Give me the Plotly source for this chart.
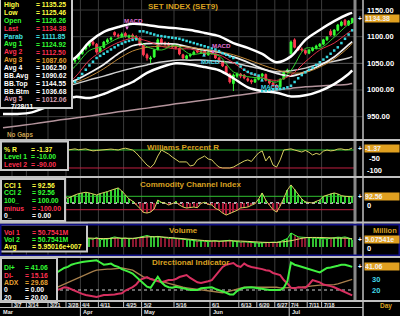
import plotly.graph_objects as go

# ---------------- data ----------------
opens = [1012, 1016, 1021, 1025, 1027, 1019, 1024, 1028, 1017, 1007,
         1000, 986, 993, 990, 1000, 1010, 1022, 1030, 1038, 1046,
         1054, 1058, 1068, 1077, 1083, 1090, 1086, 1072, 1080, 1090,
         1095, 1108, 1103, 1100, 1106, 1099, 1103, 1100, 1097, 1084,
         1066, 1058, 1062, 1076, 1095, 1088, 1087, 1083, 1080, 1078,
         1066, 1059, 1064, 1067, 1074, 1070, 1073, 1066, 1072, 1068,
         1060, 1053, 1044, 1030, 1012, 1026, 1030, 1028, 1021, 1018,
         1015, 1020, 1026, 1029, 1018, 1013, 1009, 1006, 1021, 1034,
         1068, 1094, 1080, 1077, 1074, 1069, 1074, 1078, 1082, 1086,
         1094, 1110, 1103, 1112, 1121, 1131, 1122, 1126.26]
highs = [1019, 1024, 1028, 1030, 1029, 1027, 1031, 1030, 1019, 1010,
         1003, 996, 995, 1003, 1013, 1025, 1033, 1041, 1048, 1055,
         1060, 1069, 1077, 1085, 1091, 1093, 1088, 1082, 1092, 1097,
         1100, 1110, 1106, 1108, 1109, 1104, 1106, 1103, 1099, 1086,
         1069, 1064, 1077, 1097, 1098, 1091, 1090, 1086, 1084, 1080,
         1068, 1066, 1069, 1074, 1076, 1075, 1075, 1073, 1074, 1070,
         1062, 1055, 1046, 1032, 1031, 1033, 1032, 1030, 1024, 1020,
         1022, 1028, 1032, 1031, 1020, 1015, 1011, 1022, 1036, 1040,
         1093, 1097, 1082, 1080, 1076, 1077, 1081, 1085, 1088, 1096,
         1101, 1114, 1114, 1124, 1130, 1133, 1131, 1135.25]
lows = [1009, 1013, 1018, 1022, 1016, 1016, 1021, 1014, 1004, 997,
        983, 984, 987, 987, 997, 1007, 1019, 1027, 1035, 1044,
        1050, 1056, 1066, 1074, 1080, 1083, 1068, 1070, 1078, 1087,
        1092, 1100, 1097, 1098, 1098, 1096, 1096, 1094, 1082, 1063,
        1055, 1050, 1060, 1074, 1085, 1083, 1081, 1078, 1076, 1065,
        1057, 1057, 1061, 1065, 1069, 1068, 1064, 1064, 1066, 1058,
        1050, 1043, 1028, 1012, 998, 1022, 1022, 1020, 1015, 1011,
        1013, 1018, 1024, 1016, 1010, 1005, 1002, 1004, 1019, 1031,
        1066, 1078, 1073, 1072, 1066, 1067, 1072, 1076, 1080, 1084,
        1092, 1101, 1101, 1110, 1119, 1120, 1120, 1125.46]
closes = [1016, 1021, 1025, 1027, 1019, 1024, 1028, 1017, 1007, 1000,
          986, 993, 990, 1000, 1010, 1022, 1030, 1038, 1045, 1052.5,
          1056, 1067, 1075, 1082.5, 1088, 1086, 1071, 1079, 1090, 1094,
          1097.5, 1103, 1101, 1105, 1101, 1101, 1099, 1097.5, 1084, 1066,
          1060, 1060, 1075, 1094, 1088, 1086, 1084, 1081, 1079, 1067.5,
          1060, 1064, 1066, 1071, 1071, 1073, 1066, 1071, 1069, 1060,
          1052.5, 1045, 1030, 1015, 1028, 1030, 1026, 1022.5, 1018, 1015,
          1020, 1026, 1030, 1018, 1013, 1008, 1005, 1020, 1033.75, 1037.5,
          1090, 1080, 1075, 1075, 1069, 1075, 1078.75, 1082.5, 1086, 1094,
          1099, 1103, 1112.5, 1122, 1127.5, 1122, 1129.4, 1134.38]
parab_sar = [1040, 1039, 1038, 1037, 1036, 1035, 1034, 1033, 1032, 1030, 1027, 1022, 1016, 1012,
             983, 985, 989, 994, 1000, 1008, 1015, 1022, 1030, 1038, 1046, 1053, 1060, 1064,
             1068, 1072, 1076, 1080, 1084, 1087, 1090, 1092, 1094, 1095,
             1110, 1110, 1108, 1106, 1104, 1102, 1101, 1100, 1099, 1098, 1097, 1096,
             1094, 1092, 1090, 1088, 1086, 1084, 1082, 1080, 1078, 1076, 1073, 1069, 1066, 1063,
             1060, 1051, 1044, 1038, 1034, 1031, 1029, 1027,
             998, 999, 1000, 1001, 1001.5, 1002, 1003, 1005,
             1008, 1015, 1022, 1028, 1033, 1038, 1042, 1047, 1052, 1057,
             1062, 1068, 1074, 1080, 1088, 1096, 1104, 1111.85]

# averaged lines, read every 4th session
line_idx = [0, 4, 8, 12, 16, 20, 24, 28, 32, 36, 40, 44, 48, 52, 56, 60, 64, 68, 72, 76, 80, 84, 88, 92, 96, 97]
avg1 = [1015, 1022, 1020, 998, 1020, 1044, 1074, 1083, 1097, 1101, 1081, 1075, 1084, 1067, 1069, 1064, 1034, 1025, 1022, 1015, 1037, 1078, 1078, 1099, 1123, 1124.92]
avg2 = [1012, 1016, 1020, 1008, 1005, 1024, 1056, 1075, 1089, 1097, 1092, 1082, 1077, 1077, 1070, 1066, 1051, 1033, 1023, 1018, 1028, 1053, 1075, 1088, 1108, 1112.5]
avg3 = [1012, 1013, 1014, 1012, 1010, 1014, 1025, 1040, 1058, 1073, 1080, 1082, 1082, 1080, 1076, 1072, 1066, 1057, 1047, 1038, 1032, 1033, 1043, 1058, 1080, 1087.6]
avg4 = [991, 991, 994, 1000, 1006, 1011, 1019, 1026, 1034, 1041, 1047, 1052.5, 1056, 1056, 1056, 1054, 1051, 1045, 1039, 1034, 1036, 1041, 1049, 1054, 1060, 1062.5]
avg5 = [929, 932.5, 936, 940, 944, 947.5, 951, 955, 959, 962.5, 966, 970, 974, 977.5, 981, 985, 989, 992.5, 996, 1000, 1003, 1006, 1007.5, 1009, 1011, 1012.06]
bb_avg = [1010, 1012, 1015, 1012, 1010, 1018, 1032, 1048, 1068, 1083, 1087, 1087, 1086, 1080, 1075, 1071, 1062, 1052, 1040, 1031, 1026, 1034, 1046, 1062, 1085, 1090.62]
bb_top = [1055, 1058, 1055, 1050, 1050, 1060, 1090, 1109, 1118, 1124, 1122, 1118, 1116, 1112.5, 1107, 1101, 1088, 1079, 1067.5, 1052, 1063, 1094, 1112.5, 1129, 1142.5, 1144.55]
bb_btm = [955, 955, 958, 968, 978, 987, 985, 992.5, 1004, 1015, 1032, 1043, 1050, 1048, 1043, 1037, 1022, 1005, 998, 995, 988, 990, 998, 1011, 1030, 1036.68]

williams_r = [-30, -25, -20, -35, -60, -55, -40, -70, -85, -95, -90, -75, -60, -45, -30, -20, -15, -12,
              -10, -6, -5, -9, -8, -5, -10, -14, -12, -10,
              -8, -5, -6, -8, -10, -5, -2, -6, -10, -23,
              -41, -59, -77, -88, -72, -37, -10, -19, -28, -41,
              -54, -63, -63, -63, -81, -77, -54, -46, -37, -50,
              -54, -72, -86, -90, -90, -90, -86, -77, -68, -59,
              -54, -61, -41, -23, -14, -59, -37, -77, -86, -54,
              -10, -8, -5, -10, -15, -19, -12, -20, -32, -25,
              -30, -15, -10, -14, -12, -6, -5, -9, -8, -1.37]
cci = [50, 80, 90, 100, 40, 60, 80, 30, -80, -150, -200, -160, -140, -90, -20, 40, 70, 90,
       70, 100, 120, 140, 150, 160, 150, 130, 120, 140,
       150, 170, 190, 210, 225, 180, 120, 60, 30, -20,
       -80, -140, -150, -135, -90, 45, 10, 0, -30, -10,
       15, -30, -60, -75, -65, -60, -70, -5, 10, -20,
       -30, -80, -105, -150, -180, -160, -135, -110, -75, -65,
       -60, -35, -10, 60, 150, 40, -30, -100, -135, -45,
       75, 195, 270, 200, 120, 60, 15, 5, 0, 25,
       45, 100, 120, 140, 150, 135, 110, 100, 95, 92.56]
volume_m = [55, 60, 52, 48, 62, 58, 50, 70, 85, 90,
            75, 60, 65, 58, 62, 70, 66, 72, 80, 68,
            75, 64, 70, 66, 62, 55, 68, 50, 58, 55,
            65, 72, 66, 60, 64, 58, 60, 62, 70, 78,
            82, 75, 72, 76, 70, 66, 62, 64, 60, 58,
            55, 52, 50, 45, 42, 44, 40, 38, 42, 45,
            40, 43, 46, 48, 42, 38, 35, 37, 34, 30,
            32, 28, 30, 33, 31, 34, 33, 38, 50, 60,
            100, 85, 72, 70, 68, 66, 62, 60, 58, 55,
            58, 62, 66, 70, 68, 72, 65, 50.7541]
volume_avg_m = [62, 60, 66, 72, 70, 68, 64, 60, 64, 62, 72, 72, 64, 55, 46, 42, 44, 40, 34, 33, 45, 66, 68, 64, 62, 59.5016]
di_plus = [25, 27, 28, 30, 28, 26, 25, 24, 21, 18, 15, 16, 18, 22, 30,
           36, 38, 40, 41, 43, 44, 45, 45.5, 46, 46.5,
           47, 47, 45, 43, 43.5, 44, 42, 41, 39, 38,
           36.5, 35, 32, 29, 26, 23, 22, 27, 32, 27,
           24, 22.5, 22, 23, 22, 21.5, 21, 20, 20, 20,
           21.5, 22, 22.5, 22.5, 21, 20, 19, 17.5, 16, 16,
           19, 21, 22, 22.5, 22.5, 22, 21.5, 21, 20, 20,
           20, 20, 20, 22, 28, 45, 43, 42, 41, 40,
           39, 38, 36.5, 36, 38, 40, 40.5, 41, 42, 43,
           43, 42, 41.06]
di_minus = [20, 19, 18, 20, 24, 25, 24, 27, 31, 34, 36, 34, 32, 28, 24,
            20, 21, 22.5, 22, 20.5, 19, 17.5, 16.5, 15.5, 15,
            14.5, 13.6, 14.5, 15.5, 15.5, 15.5, 16, 16.5, 17, 19.5,
            21, 22.7, 25, 29, 30.5, 31.8, 30, 29, 27.5, 27,
            28, 29, 29, 30, 31.8, 32.5, 33.6, 31, 29, 27,
            26.4, 27, 28, 29, 33, 38, 41, 43, 44, 44.5,
            42, 41, 44, 42, 41, 40.5, 40, 39, 38, 37.5,
            35.5, 34.5, 33.5, 29, 26, 22, 21.5, 22.5, 22.5, 22,
            25, 29, 28, 27, 25, 24.5, 23.5, 22.5, 21, 20,
            18.5, 17, 15.16]
adx = [20, 19.5, 19, 18.5, 18, 18, 18.5, 19, 20, 21, 22, 22.5, 22.5, 22, 22,
       22.5, 24, 25.5, 27, 28.5, 30, 31.5, 33, 34.5, 36,
       37, 38, 38.5, 39, 39, 39, 39.5, 40, 40, 39.5,
       39, 38, 36, 34, 32, 31, 30, 29.5, 28.5, 27.5,
       27, 26, 25, 24, 23, 22.5, 22, 21.5, 21, 20.5,
       20, 19.5, 19, 18.5, 18, 17.5, 17.5, 18, 19, 20,
       21, 22, 22.5, 22.7, 22.7, 22.7, 22.7, 22.7, 22.7, 22.5,
       22.5, 22.5, 22, 22, 22, 21.8, 22, 22.3, 22.5, 22.7,
       23.2, 23.8, 24.3, 24.5, 24.5, 24.5, 24.6, 24.8, 25.5, 26.5,
       27.5, 28.7, 29.68]

price_ticks = [1150, 1100, 1050, 1000, 950]
tick_pos = [2.5, 6.5, 12.5, 17.5, 21.5, 26.5, 33.5, 38.5, 47.5, 57.5, 65.5, 70.5, 75.5, 79.5, 84.5, 88.5]
tick_labels = ['3/7', '3/14', '3/21', '3/28', '4/4', '4/11', '4/25', '5/2', '5/16', '6/1', '6/13', '6/20', '6/27', '7/4', '7/11', '7/18']
month_pos = [-0.8, 21.5, 38.5, 57.5, 79.5]
month_labels = ['Mar', 'Apr', 'May', 'Jun', 'Jul']

# ---------------- geometry helpers ----------------
W, H = 400, 316
FONT = "Liberation Sans, Arial, sans-serif"
GOLD = '#d8a020'
GREEN = '#33ff33'
RED = '#ff3050'
BOX_FS = 6.8


def fx(px):
    return px / W


def fy(py):
    return 1 - py / H


days = list(range(len(closes)))
up = [c >= o for o, c in zip(opens, closes)]

fig = go.Figure()


def add_line(x, y, color, width, yaxis='y', shape='spline', dash=None):
    fig.add_trace(go.Scatter(x=x, y=y, mode='lines', xaxis='x', yaxis=yaxis,
                             line=dict(color=color, width=width, shape=shape,
                                       smoothing=0.9 if shape == 'spline' else None, dash=dash),
                             hoverinfo='skip', showlegend=False))


# ---- main price panel ----
add_line(line_idx, avg5, '#b4949c', 1.5)
add_line(line_idx, avg4, '#d0d0d0', 1.5)
add_line(line_idx, bb_btm, '#ffffff', 2.5)
add_line(line_idx, bb_top, '#ffffff', 2.5)
add_line(line_idx, bb_avg, '#f0f0f0', 1.8)
add_line(line_idx, avg3, '#c08838', 1)
add_line(line_idx, avg2, '#e03048', 1)
add_line(line_idx, avg1, '#30d030', 1)
fig.add_trace(go.Candlestick(x=days, open=opens, high=highs, low=lows, close=closes,
                             xaxis='x', yaxis='y', whiskerwidth=0,
                             increasing=dict(line=dict(color=GREEN, width=1), fillcolor=GREEN),
                             decreasing=dict(line=dict(color='#ff3a50', width=1), fillcolor='#ff3a50'),
                             hoverinfo='skip', showlegend=False))
fig.add_trace(go.Scatter(x=days, y=parab_sar, mode='markers', xaxis='x', yaxis='y',
                         marker=dict(color='#38d8e0', size=2.5, symbol='square', line=dict(width=0)),
                         hoverinfo='skip', showlegend=False))

# ---- Williams %R ----
add_line(days, williams_r, '#d8d060', 1, yaxis='y2', shape='linear')

# ---- CCI ----
fig.add_trace(go.Bar(x=days, y=cci, width=0.3, xaxis='x', yaxis='y3',
                     marker=dict(color=['#30d030' if v >= 0 else '#a81838' for v in cci], line=dict(width=0)),
                     hoverinfo='skip', showlegend=False))
add_line(days, cci, '#d8d060', 1, yaxis='y3', shape='linear')

# ---- Volume ----
fig.add_trace(go.Bar(x=days, y=volume_m, width=0.3, xaxis='x', yaxis='y4',
                     marker=dict(color=['#30c030' if u else '#8a1830' for u in up], line=dict(width=0)),
                     hoverinfo='skip', showlegend=False))
add_line(days, volume_m, '#40ff40', 1, yaxis='y4', shape='linear')
add_line(line_idx, volume_avg_m, '#e0e070', 1, yaxis='y4')

# ---- Directional indicator ----
add_line(days, adx, '#a8804c', 1.3, yaxis='y5', shape='linear')
add_line(days, di_minus, '#d83060', 2, yaxis='y5', shape='linear')
add_line(days, di_plus, '#40f040', 2, yaxis='y5', shape='linear')

# ---------------- shapes ----------------
shapes = []
for t in tick_pos:
    shapes.append(dict(type='line', xref='x', yref='paper', x0=t, x1=t, y0=fy(301), y1=1,
                       line=dict(color='#3c3c3c', width=1), layer='below'))
for p in price_ticks:
    shapes.append(dict(type='line', xref='paper', yref='y', x0=0, x1=fx(363), y0=p, y1=p,
                       line=dict(color='#5a5a5a' if p == 1050 else '#3c3c3c', width=1), layer='below'))
shapes += [
    dict(type='line', xref='paper', yref='y2', x0=0, x1=fx(354), y0=-10, y1=-10, line=dict(color='#30c030', width=1), layer='below'),
    dict(type='line', xref='paper', yref='y2', x0=0, x1=fx(354), y0=-90, y1=-90, line=dict(color='#c02040', width=1), layer='below'),
    dict(type='line', xref='paper', yref='y3', x0=0, x1=fx(354), y0=100, y1=100, line=dict(color='#30c030', width=1), layer='below'),
    dict(type='line', xref='paper', yref='y3', x0=0, x1=fx(354), y0=-100, y1=-100, line=dict(color='#c02040', width=1), layer='below'),
    dict(type='line', xref='paper', yref='y3', x0=0, x1=fx(354), y0=0, y1=0, line=dict(color='#b0b0b0', width=2, dash='dot'), layer='below'),
    dict(type='line', xref='paper', yref='y5', x0=0, x1=fx(354), y0=20, y1=20, line=dict(color='#d0d0d0', width=1, dash='dot'), layer='below'),
]
for (x0, y0, x1, y1) in [(0, -1, 72, 108), (1, 141.5, 68, 170), (1, 179, 65, 221), (0, 224.5, 87, 251.5), (1, 258, 57, 302)]:
    shapes.append(dict(type='rect', xref='paper', yref='paper', x0=fx(x0), x1=fx(x1), y0=fy(y1), y1=fy(y0),
                       fillcolor='black', line=dict(color='#c8c8c8', width=2), layer='above'))
shapes.append(dict(type='line', xref='paper', yref='paper', x0=fx(355), x1=fx(355), y0=fy(301), y1=1,
                   line=dict(color='#888888', width=3), layer='above'))
shapes.append(dict(type='rect', xref='paper', yref='paper', x0=fx(0.5), x1=fx(399.5), y0=fy(255.5), y1=fy(224.5),
                   line=dict(color='#101088', width=2), layer='above'))
for py in [140, 177, 222.5, 257, 301]:
    shapes.append(dict(type='line', xref='paper', yref='paper', x0=0, x1=1, y0=fy(py), y1=fy(py),
                       line=dict(color='#c0c0c0', width=2), layer='above'))
shapes.append(dict(type='line', xref='paper', yref='paper', x0=fx(363), x1=fx(363), y0=0, y1=1,
                   line=dict(color='#c0c0c0', width=1.5), layer='above'))
shapes.append(dict(type='line', xref='paper', yref='paper', x0=0, x1=fx(363), y0=fy(307.5), y1=fy(307.5),
                   line=dict(color='#c0c0c0', width=1), layer='above'))
for t in tick_pos:
    shapes.append(dict(type='line', xref='x', yref='paper', x0=t, x1=t, y0=fy(307.5), y1=fy(301),
                       line=dict(color='#c0c0c0', width=1), layer='above'))
for t in month_pos[1:]:
    shapes.append(dict(type='line', xref='x', yref='paper', x0=t, x1=t, y0=0, y1=fy(307.5),
                       line=dict(color='#c0c0c0', width=1), layer='above'))

# ---------------- annotations ----------------
ann = []


def text(px, py, s, color, size=BOX_FS, anchor='left', bold=True, yref='paper', yval=None, **kw):
    ann.append(dict(x=fx(px), y=fy(py) if yref == 'paper' else yval, xref='paper', yref=yref,
                    text=f'<b>{s}</b>' if bold else s, showarrow=False, xanchor=anchor, yanchor='middle',
                    font=dict(family=FONT, size=size, color=color), borderpad=0, **kw))


def info_box(rows, x_eq):
    for py, lab, val, col in rows:
        text(3, py, lab, col)
        text(x_eq, py, f'= {val}', col)


YEL = '#ffff40'
WHT = '#ffffff'
info_box([(5, 'High', '1135.25', YEL), (12.9, 'Low', '1125.46', YEL), (20.7, 'Open', '1126.26', GREEN),
          (28.6, 'Last', '1134.38', RED), (36.4, 'Parab', '1111.85', '#40e0e0'), (44.3, 'Avg 1', '1124.92', GREEN),
          (52.1, 'Avg 2', '1112.50', RED), (60, 'Avg 3', '1087.60', '#e8a030'), (67.8, 'Avg 4', '1062.50', WHT),
          (75.7, 'BB.Avg', '1090.62', WHT), (83.5, 'BB.Top', '1144.55', WHT), (91.4, 'BB.Btm', '1036.68', WHT),
          (99.2, 'Avg 5', '1012.06', '#d8a0b4')], 35)
text(10, 106, '7/28/11', WHT)
info_box([(149, '% R', '-1.37', YEL), (156.5, 'Level 1', '-10.00', GREEN), (164, 'Level 2', '-90.00', RED)], 30)
info_box([(185, 'CCI 1', '92.56', YEL), (192.7, 'CCI 2', '92.56', GREEN), (200.4, '100_', '100.00', GREEN),
          (208, 'minus', '-100.00', RED), (215.6, '0_', '0.00', WHT)], 31)
info_box([(232, 'Vol 1', '50.7541M', RED), (239.6, 'Vol 2', '50.7541M', GREEN), (247, 'Avg', '5.95016e+007', YEL)], 31)
info_box([(267.5, 'DI+', '41.06', GREEN), (275, 'DI-', '15.16', RED), (282.5, 'ADX', '29.68', '#e8a030'),
          (289.8, '0', '0.00', WHT), (297, '20_', '20.00', WHT)], 24)

# panel titles
text(183, 6.5, 'SET INDEX (SET9)', GOLD, size=8, anchor='center')
text(183, 147, 'Williams Percent R', GOLD, size=8, anchor='center')
text(190, 184, 'Commodity Channel Index', GOLD, size=8, anchor='center')
text(183, 230, 'Volume', GOLD, size=8, anchor='center')
text(190, 262, 'Directional Indicator', GOLD, size=8, anchor='center')
text(6, 135, 'No Gaps', '#c8a050', size=6.3)

# signal marks
text(133, 20.5, 'MACD', '#e070d0', size=6.2, anchor='center')
text(221, 45.5, 'MACD', '#e070d0', size=6.2, anchor='center')
text(210, 62, 'MACD', '#40d8e8', size=6.2, anchor='center')
text(270, 86, 'MACD', '#40d8e8', size=6.2, anchor='center')
for (ax_, tip, tail, col) in [(127, 30, 25, '#e070d0'), (213, 54, 49, '#e070d0'),
                              (204, 53, 58, '#40d8e8'), (262, 78, 83, '#40d8e8')]:
    ann.append(dict(x=fx(ax_), y=fy(tip), xref='paper', yref='paper', text='', showarrow=True,
                    ax=0, ay=tail - tip, arrowhead=2, arrowsize=0.6, arrowwidth=1.2, arrowcolor=col))

# right axis labels
for p in price_ticks:
    text(366, 0, f'{p:.2f}', WHT, size=7.5, yref='y', yval=p)
text(368, 0, '-50', WHT, size=7.5, yref='y2', yval=-50)
text(366, 0, '-100', WHT, size=7.5, yref='y2', yval=-100)
text(366, 0, '0', WHT, size=7.5, yref='y3', yval=0, yshift=-2.5)
text(366, 0, '0', WHT, size=7.5, yref='y4', yval=0, yshift=-1.5)
text(371, 0, '30', '#40d8e8', size=7.5, yref='y5', yval=30)
text(371, 0, '20', '#40d8e8', size=7.5, yref='y5', yval=20)
text(385, 230.5, 'Million', GOLD, size=7.5, anchor='center')
text(386, 306, 'Day', GOLD, size=6.5, anchor='center')

# current value tags
for s, yr, v in [('1134.38', 'y', closes[-1]), ('-1.37', 'y2', williams_r[-1]), ('92.56', 'y3', cci[-1]),
                 ('5.07541e', 'y4', volume_m[-1]), ('41.06', 'y5', di_plus[-1])]:
    text(364, 0, s, '#f0f0f0', size=7, yref=yr, yval=v, bgcolor='#e0a020', width=34, align='left')
    text(357, 0, '+', WHT, size=6.5, yref=yr, yval=v)

# date axis labels
for t, s in zip(tick_pos, tick_labels):
    ann.append(dict(x=t + 0.3, y=fy(304.6), xref='x', yref='paper', text=f'<b>{s}</b>', showarrow=False,
                    xanchor='left', yanchor='middle', font=dict(family=FONT, size=5.4, color='#e8e8e8'), borderpad=0))
for t, s in zip(month_pos, month_labels):
    ann.append(dict(x=t + 0.5, y=fy(311.8), xref='x', yref='paper', text=f'<b>{s}</b>', showarrow=False,
                    xanchor='left', yanchor='middle', font=dict(family=FONT, size=5.6, color='#e8e8e8'), borderpad=0))

# ---------------- layout ----------------
ax_common = dict(visible=False, fixedrange=True, anchor='x')
fig.update_layout(
    width=W, height=H, margin=dict(l=0, r=0, t=0, b=0),
    paper_bgcolor='black', plot_bgcolor='rgba(0,0,0,0)', showlegend=False, barmode='overlay',
    xaxis=dict(domain=[0, fx(363)], range=[-0.833, 100.0], visible=False, fixedrange=True,
               rangeslider=dict(visible=False), anchor='y'),
    yaxis=dict(domain=[fy(139), 1], range=[908.1, 1168.75], **ax_common),
    yaxis2=dict(domain=[fy(176), fy(141)], range=[-125.6, 30], **ax_common),
    yaxis3=dict(domain=[fy(222), fy(178)], range=[-283.6, 373.1], **ax_common),
    yaxis4=dict(domain=[fy(255), fy(225)], range=[-57.1, 157.1], **ax_common),
    yaxis5=dict(domain=[fy(301), fy(258)], range=[10, 49.1], **ax_common),
    shapes=shapes, annotations=ann,
)

fig.write_html("out.html")
